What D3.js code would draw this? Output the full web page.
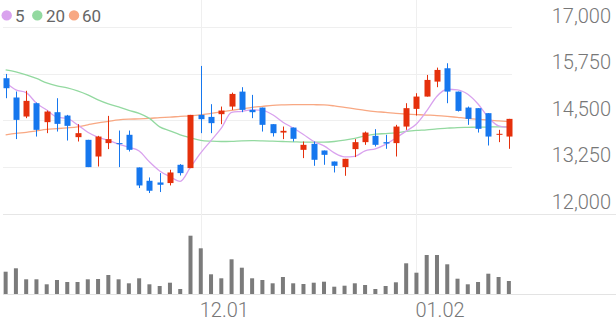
<!DOCTYPE html>
<html>
<head>
<meta charset="utf-8">
<script src="https://cdn.jsdelivr.net/npm/d3@7"></script>
<style>
    body { margin: 0; background: #fff; }
    svg { display: block; font-family: Roboto, "Noto Sans", sans-serif; }
</style>
</head>
<body>
<div id="chart"></div>
<script>
// trading days, 2022-11-04 .. 2023-01-13
const dates = ['11.04','11.07','11.08','11.09','11.10','11.11','11.14','11.15','11.16','11.17',
    '11.18','11.21','11.22','11.23','11.24','11.25','11.28','11.29','11.30','12.01',
    '12.02','12.05','12.06','12.07','12.08','12.09','12.12','12.13','12.14','12.15',
    '12.16','12.19','12.20','12.21','12.22','12.23','12.26','12.27','12.28','12.29',
    '01.02','01.03','01.04','01.05','01.06','01.09','01.10','01.11','01.12','01.13'];
const tickLabels = ['12.01', '01.02'];
const priceTicks = [17000, 15750, 14500, 13250, 12000];

const open = [15627,15110,14600,14957,14449,14716,14626,14047,13975,13528,
    13887,13887,14110,13234,12877,12832,12816,13306,13217,14644,
    14590,14663,14867,15268,14778,14840,14395,14170,14304,13707,
    13868,13689,13394,13244,13726,13913,14082,13913,13887,14331,
    14805,15135,15536,15894,15268,14840,14824,14690,14109,14063];
const high = [15742,15270,15290,14974,14760,15091,14644,14395,13975,14082,
    14617,14224,14224,13234,12966,13083,13172,13324,14644,15956,
    14931,14867,15241,15386,15180,14840,14395,14331,14304,13930,
    13930,13689,13394,13466,13994,14197,14261,14110,14377,14957,
    15225,15715,15911,16028,15268,14867,14824,14690,14243,14537];
const low = [15091,13995,14556,14063,14154,14197,13956,13930,13244,13260,
    13726,13244,13662,12682,12548,12575,12752,13019,13217,14154,
    14154,14395,14778,14716,14556,14197,14063,13994,13930,13485,
    13279,13306,13100,13011,13512,13841,13796,13734,13528,14243,
    14626,15135,15386,14957,14733,14377,14170,13823,13913,13734];
const close = [15359,14510,15020,14243,14733,14403,14350,14154,13244,14063,
    13994,13860,13707,12752,12610,12770,13100,13083,14644,14529,
    14422,14760,15206,14778,14716,14377,14154,14216,14002,13841,
    13440,13573,13279,13466,13913,14170,13841,13876,14331,14824,
    15135,15581,15849,15268,14751,14537,14270,14063,14136,14537];
// volume, thousand shares
const volume = [223,257,147,147,97,140,120,120,147,150,
    190,147,107,157,97,80,113,50,583,457,
    197,157,347,263,157,140,107,170,107,100,
    113,123,73,83,107,90,50,80,117,307,
    213,390,390,297,153,97,120,203,170,130];

const ma5 = [15509,15314,15241,14957,14773,14582,14550,14377,14177,14043,
    13961,13863,13774,13675,13385,13140,12988,12863,13241,13625,
    13956,14288,14712,14739,14776,14767,14646,14448,14293,14118,
    13931,13814,13627,13520,13534,13680,13734,13853,14026,14208,
    14401,14749,15144,15331,15317,15197,14935,14578,14351,14309];
const ma20 = [15849,15795,15715,15621,15501,15420,15367,15287,15180,15046,
    14939,14858,14765,14684,14550,14323,14216,14109,14029,13962,
    13940,13930,13935,13948,13953,13948,13940,13930,13922,13913,
    13913,13913,13930,13967,14015,14082,14127,14143,14162,14202,
    14229,14243,14270,14288,14304,14310,14315,14318,14323,14323];
const ma60 = [14109,14149,14176,14216,14256,14275,14296,14323,14377,14430,
    14470,14510,14529,14537,14550,14572,14583,14604,14617,14644,
    14684,14725,14765,14805,14845,14872,14899,14912,14920,14920,
    14917,14912,14885,14845,14805,14765,14733,14711,14684,14666,
    14652,14639,14626,14604,14577,14550,14529,14502,14484,14465];

const maSeries = [
    {name: '5', values: ma5, color: '#d9a2ee'},
    {name: '20', values: ma20, color: '#93d9a0'},
    {name: '60', values: ma60, color: '#f8a883'}
];

const UP = '#e5300c';
const DOWN = '#1677ee';

const width = 616, height = 321;

const svg = d3.select('#chart')
    .append('svg')
    .attr('width', width)
    .attr('height', height);

const x = d3.scaleBand()
    .domain(dates)
    .range([0.5, 514]);
const cx = d => x(d) + x.bandwidth() / 2;

const y = d3.scaleLinear()
    .domain([12000, 17000])
    .range([213.5, 27]);

const yVol = d3.scaleLinear()
    .domain([0, 600])
    .range([294, 234]);

// grid
svg.append('g')
    .selectAll('line')
    .data(priceTicks.slice(0, -1))
    .enter().append('line')
    .attr('x1', 3).attr('x2', 512)
    .attr('y1', d => Math.round(y(d)) + 0.5)
    .attr('y2', d => Math.round(y(d)) + 0.5)
    .attr('stroke', '#efefef');

svg.append('line')
    .attr('x1', 3).attr('x2', width)
    .attr('y1', Math.round(y(12000)) + 0.5).attr('y2', Math.round(y(12000)) + 0.5)
    .attr('stroke', '#e6e6e6');

svg.append('g')
    .selectAll('line')
    .data(tickLabels)
    .enter().append('line')
    .attr('x1', d => Math.round(cx(d)) + 0.5)
    .attr('x2', d => Math.round(cx(d)) + 0.5)
    .attr('y1', 0).attr('y2', 294)
    .attr('stroke', '#efefef');

svg.append('line')
    .attr('x1', 3).attr('x2', width)
    .attr('y1', 294.5).attr('y2', 294.5)
    .attr('stroke', '#e3e3e3');

// y labels
svg.append('g')
    .selectAll('text')
    .data(priceTicks)
    .enter().append('text')
    .attr('x', 611)
    .attr('y', d => y(d) - 4.5)
    .attr('text-anchor', 'end')
    .attr('font-size', '20px')
    .attr('font-weight', 300)
    .attr('fill', '#777')
    .text(d => d3.format(',')(d));

// x labels
svg.append('g')
    .selectAll('text')
    .data(tickLabels)
    .enter().append('text')
    .attr('x', d => cx(d) - 1)
    .attr('y', 316.5)
    .attr('font-size', '20px')
    .attr('font-weight', 300)
    .attr('fill', '#777')
    .text(d => d);

// volume
svg.append('g')
    .selectAll('rect')
    .data(dates)
    .enter().append('rect')
    .attr('x', d => cx(d) - 2)
    .attr('width', 4)
    .attr('y', (d, i) => yVol(volume[i]))
    .attr('height', (d, i) => 294 - yVol(volume[i]))
    .attr('fill', '#7b7b7b');

// moving averages
const line = d3.line()
    .x((v, i) => cx(dates[i]))
    .y(v => y(v))
    .curve(d3.curveMonotoneX);

svg.append('g')
    .selectAll('path')
    .data(maSeries.slice().reverse())
    .enter().append('path')
    .attr('d', d => line(d.values))
    .attr('fill', 'none')
    .attr('stroke', d => d.color)
    .attr('stroke-width', 1.3);

// candles
const candles = svg.append('g')
    .selectAll('g')
    .data(dates)
    .enter().append('g');

const colorOf = i => close[i] >= open[i] ? UP : DOWN;

candles.append('line')
    .attr('x1', d => Math.round(cx(d)) + 0.5)
    .attr('x2', d => Math.round(cx(d)) + 0.5)
    .attr('y1', (d, i) => y(high[i]))
    .attr('y2', (d, i) => y(low[i]))
    .attr('stroke', (d, i) => colorOf(i))
    .attr('stroke-width', 1);

candles.append('rect')
    .attr('x', d => Math.round(cx(d)) - 2.5)
    .attr('width', 6)
    .attr('y', (d, i) => y(Math.max(open[i], close[i])))
    .attr('height', (d, i) => Math.max(1, Math.abs(y(open[i]) - y(close[i]))))
    .attr('fill', (d, i) => colorOf(i));

// legend
const legendPos = [{cx: 6.7, tx: 15}, {cx: 37.3, tx: 46}, {cx: 74, tx: 82}];
const legend = svg.append('g')
    .selectAll('g')
    .data(maSeries)
    .enter().append('g');

legend.append('circle')
    .attr('cx', (d, i) => legendPos[i].cx)
    .attr('cy', 15.4)
    .attr('r', 5.2)
    .attr('fill', d => d.color);

legend.append('text')
    .attr('x', (d, i) => legendPos[i].tx)
    .attr('y', 21.6)
    .attr('font-size', '17px')
    .attr('fill', '#666')
    .text(d => d.name);
</script>
</body>
</html>
